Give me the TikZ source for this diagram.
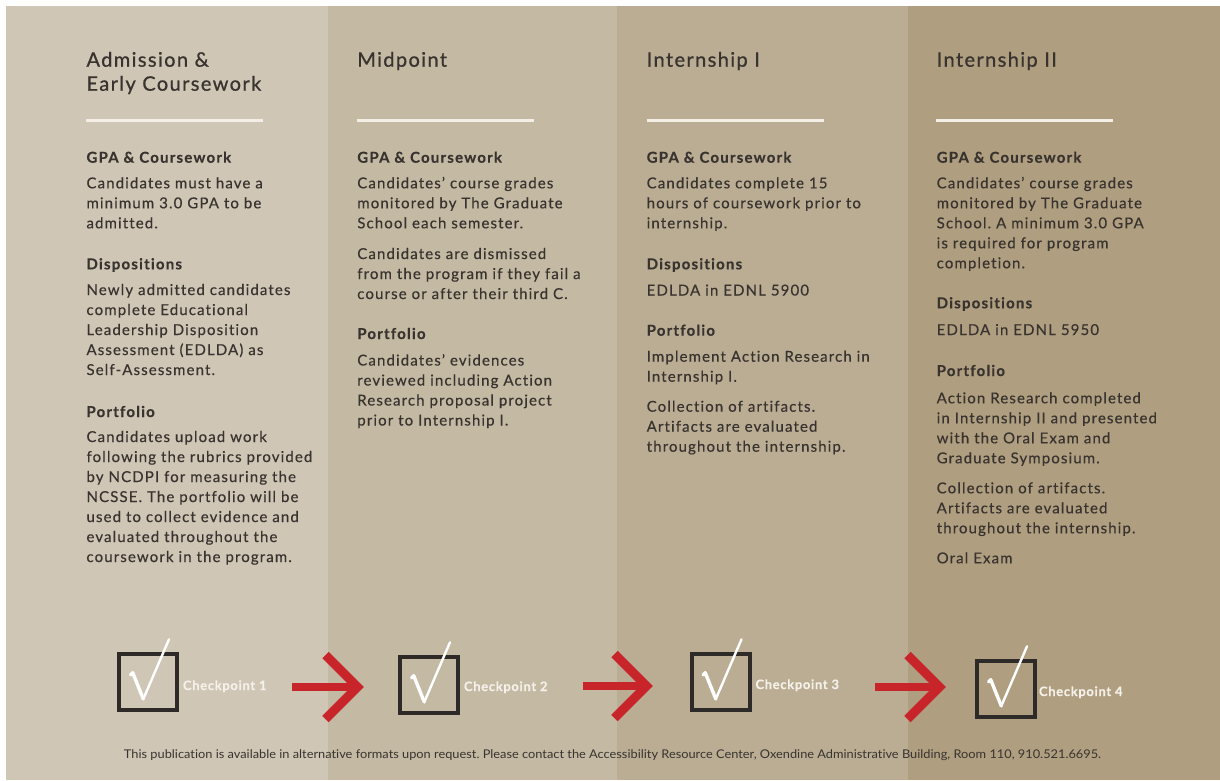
\documentclass[tikz,border=0pt]{standalone}
\usepackage{fontspec}
\usepackage{graphicx}
\newfontfamily\txtfont{Lato}[LetterSpace=7.5, FakeBold=0.35, Ligatures={NoCommon}]
\newfontfamily\headfont{Lato}[LetterSpace=7, FakeBold=0.8, Ligatures={NoCommon}]
\newfontfamily\subfont{Lato Bold}[LetterSpace=8, FakeBold=0.3, Ligatures={NoCommon}]
\newfontfamily\cpfont{Lato Bold}[LetterSpace=5, FakeBold=0.3, Ligatures={NoCommon}]
\newfontfamily\footfont{Lato}[Ligatures={NoCommon}]
\newsavebox\footbox
% lines stacked with the first baseline as the reference point
\newcommand\stack[1]{\begin{tabular}[t]{@{}l@{}}#1\end{tabular}}
\definecolor{panelA}{HTML}{CFC6B5}
\definecolor{panelB}{HTML}{C4B9A3}
\definecolor{panelC}{HTML}{BAAD93}
\definecolor{panelD}{HTML}{AF9F80}
\definecolor{ink}{HTML}{38332F}
\definecolor{rulecol}{HTML}{F4EFE6}
\definecolor{boxcol}{HTML}{2E2A27}
\definecolor{arrowred}{HTML}{C8252B}
\definecolor{labelcol}{HTML}{F5F1EA}
\begin{document}
\frenchspacing
\begin{tikzpicture}[x=1pt,y=-1pt,
  every node/.style={inner sep=0pt, outer sep=0pt},
  title/.style={anchor=base west, text=ink,
    font=\headfont\fontsize{20}{24}\selectfont},
  subhead/.style={anchor=base west, text=ink,
    font=\subfont\fontsize{15}{20}\selectfont},
  body/.style={anchor=base west, text=ink,
    font=\txtfont\fontsize{15}{20}\selectfont},
  whiterule/.style={draw=rulecol, line width=3pt},
  cbox/.style={draw=boxcol, line width=4pt, minimum width=58pt, minimum height=56pt},
  tickshort/.style={draw=white, line width=3.4pt, line cap=round, line join=round},
  ticklong/.style={draw=white, line width=2.4pt, line cap=round},
  cplabel/.style={anchor=base west, text=labelcol,
    font=\cpfont\fontsize{13}{15}\selectfont},
  shaft/.style={draw=arrowred, line width=8pt},
  chevron/.style={draw=arrowred, line width=9pt, line join=miter},
  footer/.style={text=ink, font=\footfont\fontsize{12}{14}\selectfont}
]
\useasboundingbox (0,0) rectangle (1220,780);
\fill[white] (0,0) rectangle (1220,780);

% four stage panels
\fill[panelA] (6,6) rectangle (328,780);
\fill[panelB] (328,6) rectangle (617,780);
\fill[panelC] (617,6) rectangle (908,780);
\fill[panelD] (908,6) rectangle (1220,780);

% ---- stage 1
\node[title] (t1) at (86.5,66.7) {\stack{Admission \&\\Early Coursework}};
\draw[whiterule] (86,120) -- (263,120);
\node[subhead] (g1) at (86.5,162.7) {GPA \& Coursework};
\node[body] (g1t) at (86.5,188.3) {\stack{Candidates must have a\\minimum 3.0 GPA to be\\admitted.}};
\node[subhead] (d1) at (86.5,269.3) {Dispositions};
\node[body] (d1t) at (86.5,295) {\stack{Newly admitted candidates\\complete Educational\\Leadership Disposition\\Assessment (EDLDA) as\\Self-Assessment.}};
\node[subhead] (p1) at (86.5,417) {Portfolio};
\node[body] (p1t) at (86.5,442) {\stack{Candidates upload work\\following the rubrics provided\\by NCDPI for measuring the\\NCSSE. The portfolio will be\\used to collect evidence and\\evaluated throughout the\\coursework in the program.}};

% ---- stage 2
\node[title] (t2) at (357.3,66.7) {Midpoint};
\draw[whiterule] (357,120) -- (534,120);
\node[subhead] (g2) at (357.3,162.7) {GPA \& Coursework};
\node[body] (g2t) at (357.3,188.3) {\stack{Candidates’ course grades\\monitored by The Graduate\\School each semester.}};
\node[body] (g2u) at (357.3,259) {\stack{Candidates are dismissed\\from the program if they fail a\\course or after their third C.}};
\node[subhead] (p2) at (357.3,339) {Portfolio};
\node[body] (p2t) at (357.3,365.5) {\stack{Candidates’ evidences\\reviewed including Action\\Research proposal project\\prior to Internship I.}};

% ---- stage 3
\node[title] (t3) at (646.7,66.7) {Internship I};
\draw[whiterule] (647,120) -- (824,120);
\node[subhead] (g3) at (646.7,162.7) {GPA \& Coursework};
\node[body] (g3t) at (646.7,188.3) {\stack{Candidates complete 15\\hours of coursework prior to\\internship.}};
\node[subhead] (d3) at (646.7,269.3) {Dispositions};
\node[body] (d3t) at (646.7,295.5) {EDLDA in EDNL 5900};
\node[subhead] (p3) at (646.7,335.7) {Portfolio};
\node[body] (p3t) at (646.7,361.7) {\stack{Implement Action Research in\\Internship I.}};
\node[body] (p3u) at (646.7,411.7) {\stack{Collection of artifacts.\\Artifacts are evaluated\\throughout the internship.}};

% ---- stage 4
\node[title] (t4) at (936.7,66.7) {Internship II};
\draw[whiterule] (936,120) -- (1113,120);
\node[subhead] (g4) at (936.7,162.7) {GPA \& Coursework};
\node[body] (g4t) at (936.7,188.3) {\stack{Candidates’ course grades\\monitored by The Graduate\\School. A minimum 3.0 GPA\\is required for program\\completion.}};
\node[subhead] (d4) at (936.7,308.3) {Dispositions};
\node[body] (d4t) at (936.7,335) {EDLDA in EDNL 5950};
\node[subhead] (p4) at (936.7,376) {Portfolio};
\node[body] (p4t) at (936.7,403.3) {\stack{Action Research completed\\in Internship II and presented\\with the Oral Exam and\\Graduate Symposium.}};
\node[body] (p4u) at (936.7,493.3) {\stack{Collection of artifacts.\\Artifacts are evaluated\\throughout the internship.}};
\node[body] (p4v) at (936.7,563.3) {Oral Exam};

% ---- checkpoints
\node[cbox] (c1) at (148,682) {};
\node[cbox] (c2) at (429,685) {};
\node[cbox] (c3) at (720.5,682) {};
\node[cbox] (c4) at (1006,689) {};
\foreach \c in {c1,c2,c3,c4}{
  \draw[tickshort] ([shift={(-17.5,-7)}]\c.center) -- ([shift={(-15.3,-9.3)}]\c.center) -- ([shift={(-4.7,17)}]\c.center);
  \draw[ticklong] ([shift={(-4.7,17)}]\c.center) -- ([shift={(21,-42.7)}]\c.center);
}
\node[cplabel] (l1) at ([shift={(6,8)}]c1.east) {Checkpoint 1};
\node[cplabel] (l2) at ([shift={(6,6)}]c2.east) {Checkpoint 2};
\node[cplabel] (l3) at ([shift={(6,7)}]c3.east) {Checkpoint 3};
\node[cplabel] (l4) at ([shift={(4,7)}]c4.east) {Checkpoint 4};

% ---- red arrows between checkpoints
\coordinate (a1s) at (292,687);   \coordinate (a1e) at (357.5,687);
\coordinate (a2s) at (583,686);   \coordinate (a2e) at (646.5,686);
\coordinate (a3s) at (875,687);   \coordinate (a3e) at (939.5,687);
\foreach \s/\e in {a1s/a1e, a2s/a2e, a3s/a3e}{
  \draw[shaft] (\s) -- (\e);
  \draw[chevron] ([shift={(-32,-32)}]\e) -- (\e) -- ([shift={(-32,32)}]\e);
}

% ---- footer note, condensed to its measure
\node[footer] (ft) at (612.5,755.5) {\sbox\footbox{This publication is available in alternative formats upon request. Please contact the Accessibility Resource Center, Oxendine Administrative Building, Room 110, 910.521.6695.}\resizebox{977pt}{\ht\footbox}{\usebox\footbox}};
\end{tikzpicture}
\end{document}
